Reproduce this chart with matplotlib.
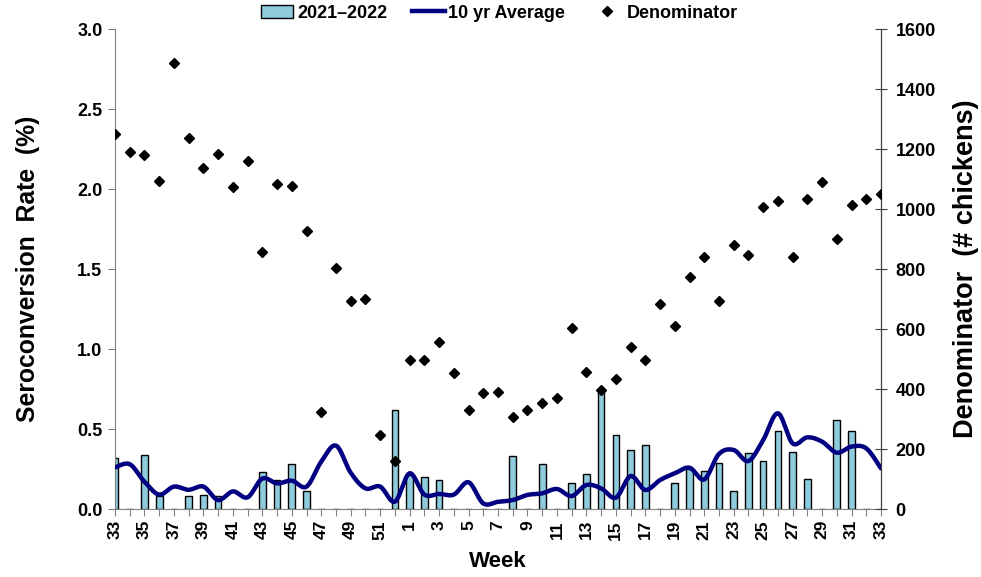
import numpy as np
import matplotlib
matplotlib.use("Agg")
import matplotlib.pyplot as plt
from matplotlib.lines import Line2D
from matplotlib.patches import Patch

plt.rcParams['font.family'] = ['Liberation Sans', 'DejaVu Sans']
plt.rcParams['font.weight'] = 'bold'

weeks = list(range(33, 53)) + list(range(1, 34))

rate_2122 = [0.32, 0, 0.34, 0.08, 0, 0.08, 0.09, 0.08, 0, 0,
             0.23, 0.18, 0.28, 0.11, 0, 0, 0, 0, 0, 0.62,
             0.21, 0.20, 0.18, 0, 0, 0, 0, 0.33, 0, 0.28,
             0, 0.165, 0.22, 0.75, 0.46, 0.37, 0.40, 0, 0.165, 0.25,
             0.235, 0.285, 0.115, 0.35, 0.30, 0.49, 0.355, 0.19, 0, 0.555,
             0.49, 0, 0]

avg_10yr = [0.26, 0.28, 0.17, 0.09, 0.14, 0.12, 0.14, 0.056, 0.11, 0.073,
            0.19, 0.16, 0.177, 0.14, 0.296, 0.396, 0.227, 0.129, 0.14, 0.046,
            0.223, 0.09, 0.094, 0.09, 0.167, 0.035, 0.045, 0.056, 0.088, 0.098,
            0.125, 0.081, 0.15, 0.129, 0.071, 0.206, 0.119, 0.181, 0.223, 0.258,
            0.185, 0.344, 0.369, 0.30, 0.431, 0.598, 0.41, 0.448, 0.421, 0.352,
            0.39, 0.379, 0.254]

denominator = [1249, 1189, 1179, 1092, 1488, 1237, 1138, 1183, 1072, 1159,
               856, 1082, 1077, 928, 324, 805, 692, 699, 247, 160,
               498, 498, 558, 454, 331, 387, 389, 306, 330, 353,
               370, 602, 457, 397, 433, 539, 498, 684, 610, 772,
               839, 695, 879, 848, 1006, 1027, 841, 1033, 1091, 899,
               1014, 1032, 1050]

x = np.arange(len(weeks))


def smooth(xs, ys, n=20):
    xs = np.asarray(xs, float)
    ys = np.asarray(ys, float)
    px = np.concatenate([[xs[0]], xs, [xs[-1]]])
    py = np.concatenate([[ys[0]], ys, [ys[-1]]])
    outx, outy = [], []
    t = np.linspace(0, 1, n, endpoint=False)
    for i in range(1, len(px) - 2):
        p0, p1, p2, p3 = (np.array([px[j], py[j]]) for j in (i - 1, i, i + 1, i + 2))
        c1 = p1 + (p2 - p0) / 6
        c2 = p2 - (p3 - p1) / 6
        b = ((1 - t) ** 3)[:, None] * p1 + (3 * (1 - t) ** 2 * t)[:, None] * c1 \
            + (3 * (1 - t) * t ** 2)[:, None] * c2 + (t ** 3)[:, None] * p2
        outx.extend(b[:, 0]); outy.extend(b[:, 1])
    outx.append(xs[-1]); outy.append(ys[-1])
    return np.array(outx), np.array(outy)


fig = plt.figure(figsize=(9.81, 5.77), dpi=100)
ax = fig.add_axes([115 / 981, 1 - 509 / 577, (881 - 115) / 981, (509 - 29) / 577])
ax2 = ax.twinx()

bar_color = '#8ecbdc'
ax.bar(x, rate_2122, width=0.45, color=bar_color, edgecolor='black', linewidth=1.0, zorder=2)
sx, sy = smooth(x, avg_10yr)
ax.plot(sx, sy, color='#000080', linewidth=3.2, zorder=3, solid_capstyle='round')
ax2.plot(x, denominator, linestyle='none', marker='D', markersize=5, color='black', zorder=4)

ax.set_xlim(0, len(weeks) - 1)
ax.set_ylim(0, 3.0)
ax2.set_ylim(0, 1600)

ax.set_xticks(x)
ax.set_xticklabels([str(w) if i % 2 == 0 else '' for i, w in enumerate(weeks)],
                   rotation=90, fontsize=12.5, fontweight='bold')
ax.set_yticks(np.arange(0, 3.01, 0.5))
ax.set_yticklabels([f'{v:.1f}' for v in np.arange(0, 3.01, 0.5)], fontsize=13, fontweight='bold')
ax2.set_yticks(np.arange(0, 1601, 200))
ax2.set_yticklabels([str(v) for v in range(0, 1601, 200)], fontsize=13, fontweight='bold')

ax.tick_params(axis='x', direction='out', length=5, color='#808080', pad=3)
ax.tick_params(axis='y', direction='out', length=5, color='#808080', pad=4)
ax2.tick_params(axis='y', direction='inout', length=9, color='#404040', pad=6)

for a in (ax, ax2):
    a.spines['top'].set_visible(False)
ax.spines['left'].set_color('#808080')
ax.spines['bottom'].set_color('#808080')
ax2.spines['right'].set_color('#404040')
ax2.spines['left'].set_visible(False)
ax2.spines['bottom'].set_visible(False)

ax.set_xlabel('Week', fontsize=16, fontweight='bold', labelpad=8)
ax.set_ylabel('Seroconversion  Rate  (%)', fontsize=17.8, fontweight='bold', labelpad=27)
ax2.set_ylabel('Denominator  (# chickens)', fontsize=19.5, fontweight='bold', labelpad=12)

handles = [Patch(facecolor=bar_color, edgecolor='black', linewidth=1.0),
           Line2D([0], [0], color='#000080', linewidth=3.2),
           Line2D([0], [0], color='black', marker='D', markersize=5, linestyle='none')]
fig.legend(handles, ['2021–2022', '10 yr Average', 'Denominator'],
           loc='center', bbox_to_anchor=(0.509, 0.977), ncol=3, frameon=False,
           prop={'size': 13, 'weight': 'bold'}, handlelength=1.8, handletextpad=0.2,
           columnspacing=1.4, handleheight=0.7)

fig.savefig('out.png', dpi=100)
